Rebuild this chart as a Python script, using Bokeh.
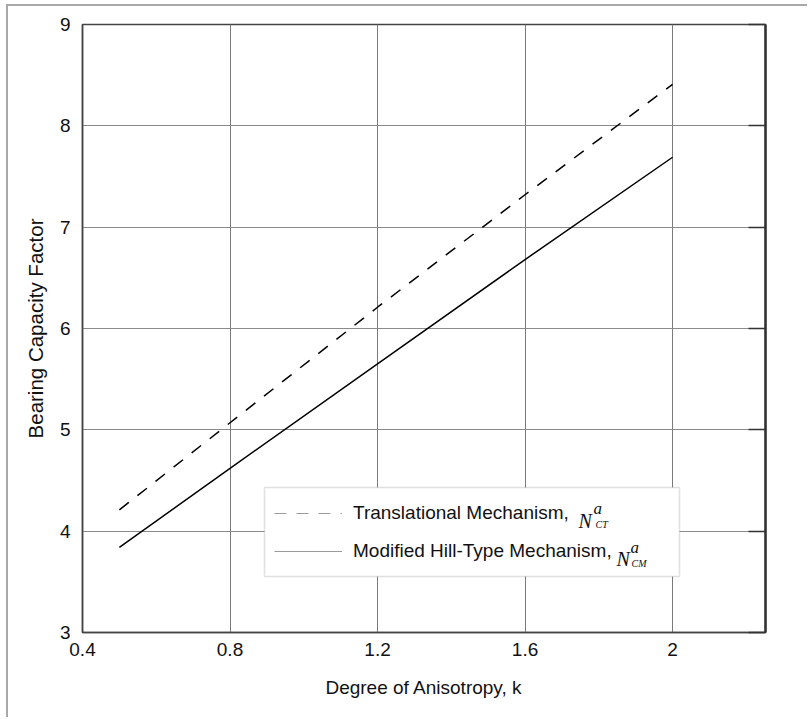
import numpy as np
from bokeh.plotting import figure
from bokeh.models import (Range1d, FixedTicker, LinearAxis, Legend, LegendItem, Label,
                          CustomJSTickFormatter, ColumnDataSource, BoxAnnotation)
from bokeh.embed import file_html
from bokeh.resources import INLINE

# ---- data ----
k = [0.5, 0.8, 1.2, 1.6, 2.0]
n_translational = [4.21, 5.07, 6.21, 7.32, 8.41]
n_hill = [3.84, 4.62, 5.65, 6.68, 7.69]
x_ticks = [0.4, 0.8, 1.2, 1.6, 2.0]
y_ticks = [3, 4, 5, 6, 7, 8, 9]
legend_labels = ["Translational Mechanism,", "Modified Hill-Type Mechanism,"]

X_START, X_END = 0.4, 2.252
Y_START, Y_END = 3, 9

# page geometry of the plotting frame (pixels)
FRAME_L, FRAME_R, FRAME_T, FRAME_B = 82, 765, 24, 632
OFF_X, OFF_Y = 8, 6   # offset of canvas due to outer frame line
W, H = 809 - OFF_X, 719 - OFF_Y

def dx(px):
    return X_START + (px - FRAME_L) * (X_END - X_START) / (FRAME_R - FRAME_L)

def dy(py):
    return Y_END - (py - FRAME_T) * (Y_END - Y_START) / (FRAME_B - FRAME_T)

p = figure(width=W, height=H, x_range=Range1d(X_START, X_END), y_range=Range1d(Y_START, Y_END),
           output_backend="svg", toolbar_location=None,
           min_border_left=FRAME_L - OFF_X, min_border_top=FRAME_T - OFF_Y,
           min_border_right=W - (FRAME_R - OFF_X), min_border_bottom=H - (FRAME_B - OFF_Y))
p.styles = {"margin-left": "6px", "margin-top": "4px",
            "border-top": "2px solid #a8a8a8", "border-left": "2px solid #a8a8a8"}

p.outline_line_color = "#444444"
p.outline_line_width = 1.5
p.background_fill_color = "white"
p.border_fill_color = "white"

TXT = "Liberation Sans"

# x axis
p.xaxis.ticker = FixedTicker(ticks=x_ticks)
p.xaxis.formatter = CustomJSTickFormatter(code="return tick.toString()")
p.xaxis.axis_label = "Degree of Anisotropy, k"
p.xaxis.major_label_standoff = 10
p.xaxis.axis_label_standoff = 18

# y axis
p.yaxis.ticker = FixedTicker(ticks=y_ticks)
p.yaxis.axis_label = "Bearing Capacity Factor"
p.yaxis.major_label_standoff = 12
p.yaxis.axis_label_standoff = 10

for ax in (p.xaxis[0], p.yaxis[0]):
    ax.major_tick_in = 0
    ax.major_tick_out = 0
    ax.minor_tick_line_color = None
    ax.axis_line_color = "#444444"
    ax.axis_line_width = 1.5
    ax.major_label_text_font = TXT
    ax.major_label_text_font_size = "19px"
    ax.major_label_text_color = "#111111"
    ax.axis_label_text_font = TXT
    ax.axis_label_text_font_size = "19px"
    ax.axis_label_text_font_style = "normal"
    ax.axis_label_text_color = "#111111"
p.yaxis.axis_label_text_font_size = "20.5px"

# right axis with inward ticks only
ra = LinearAxis(ticker=FixedTicker(ticks=y_ticks), major_tick_in=17, major_tick_out=0,
                minor_tick_line_color=None, major_label_text_font_size="0px",
                major_tick_line_color="#333333", major_tick_line_width=1.5,
                axis_line_color="#333333", axis_line_width=2.5)
p.add_layout(ra, "right")

# grid
p.xgrid.ticker = FixedTicker(ticks=x_ticks)
p.ygrid.ticker = FixedTicker(ticks=y_ticks)
p.xgrid.grid_line_color = "#7a7a7a"
p.ygrid.grid_line_color = "#8a8a8a"
p.xgrid.grid_line_width = 1
p.ygrid.grid_line_width = 1

# white backing for the legend area (legend itself is transparent so symbols show on top)
LEG_L, LEG_T, LEG_R, LEG_B = 264, 487, 679, 576
p.add_layout(BoxAnnotation(left=dx(LEG_L), right=dx(LEG_R), top=dy(LEG_T), bottom=dy(LEG_B),
                           fill_color="white", fill_alpha=1.0, line_color="#999999",
                           line_width=1.5, level="underlay"))

# data lines
p.line(k, n_translational, line_color="black", line_width=1.5, line_dash="12 11")
p.line(k, n_hill, line_color="black", line_width=1.5)

# legend samples (thin gray, as in the reference); proxy renderers draw nothing in the plot
proxy = ColumnDataSource(data=dict(x=np.array([np.nan]), y=np.array([np.nan])))
lg1 = p.line("x", "y", source=proxy, line_color="#9a9a9a", line_width=1, line_dash="12 10")
lg2 = p.line("x", "y", source=proxy, line_color="#9a9a9a", line_width=1)

legend = Legend(items=[LegendItem(label=legend_labels[0], renderers=[lg1]),
                       LegendItem(label=legend_labels[1], renderers=[lg2])],
                location=(LEG_L - FRAME_L, FRAME_B - LEG_B), padding=10, spacing=8, margin=0,
                glyph_width=68, glyph_height=30, label_height=30, label_width=316,
                label_standoff=11,
                border_line_color="#999999", border_line_alpha=0.0,
                background_fill_alpha=0.0,
                label_text_font=TXT, label_text_font_size="19px", label_text_color="#111111")
p.add_layout(legend)

# symbols N^a_CT and N^a_CM
SERIF = "Liberation Serif"
sym = [
    ("N", 578, 520, "20px"), ("a", 593, 508, "17px"), ("CT", 595, 524, "10px"),
    ("N", 616, 558, "20px"), ("a", 630, 547, "17px"), ("CM", 631, 563, "10px"),
]
for t, px, py, fs in sym:
    p.add_layout(Label(x=dx(px), y=dy(py), text=t, text_font=SERIF, text_font_style="italic",
                       text_font_size=fs, text_color="#111111", text_baseline="alphabetic",
                       text_align="left"))

open("out.html", "w").write(file_html(p, INLINE))
